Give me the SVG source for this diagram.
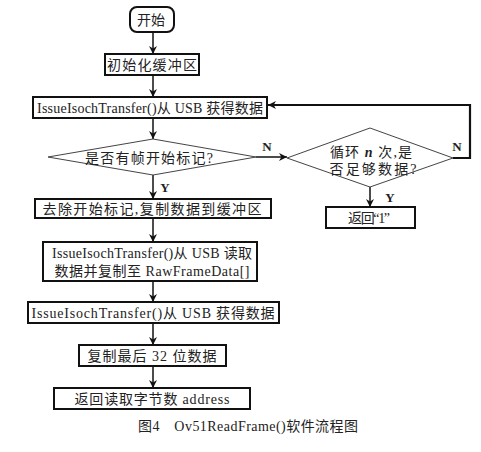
<svg xmlns="http://www.w3.org/2000/svg" width="481" height="452" viewBox="0 0 481 452">
<defs>
<marker id="ah" viewBox="0 0 10 10" refX="10" refY="5" markerWidth="8" markerHeight="8" markerUnits="userSpaceOnUse" orient="auto">
<path d="M0,0 L10,5 L0,10 L3,5 Z" fill="#111"/>
</marker>
</defs>
<style>
.box{fill:#fff;stroke:#111;stroke-width:2}
.dia{fill:#fff;stroke:#444;stroke-width:1}
.t{font-family:"Liberation Serif","Noto Sans CJK SC",serif;font-size:14px;fill:#222;text-anchor:middle;dominant-baseline:central}
.lab{font-family:"Liberation Serif",serif;font-size:13px;font-weight:bold;fill:#222;text-anchor:middle;dominant-baseline:central}
.c{fill:none;stroke:#111;stroke-width:1.5;marker-end:url(#ah)}
.c2{fill:none;stroke:#111;stroke-width:2.2;marker-end:url(#ah)}
</style>
<rect width="481" height="452" fill="#fff"/>
<g id="connectors">
<line class="c" x1="153" y1="32" x2="153" y2="54"/>
<line class="c" x1="153" y1="75" x2="153" y2="97"/>
<line class="c" x1="153" y1="118" x2="153" y2="139"/>
<line class="c" x1="153" y1="175" x2="153" y2="199"/>
<line class="c" x1="153" y1="218" x2="153" y2="242"/>
<line class="c" x1="153" y1="281" x2="153" y2="302"/>
<line class="c" x1="153" y1="323" x2="153" y2="345"/>
<line class="c" x1="153" y1="366" x2="153" y2="388"/>
<line class="c" x1="256" y1="157" x2="287" y2="157"/>
<line class="c" x1="370" y1="187" x2="370" y2="207"/>
<polyline class="c2" points="453,158 470,158 470,105 268,105"/>
<text class="lab" x="267" y="146">N</text>
<text class="lab" x="457" y="146">N</text>
<text class="lab" x="165" y="187">Y</text>
<text class="lab" x="390" y="197">Y</text>
</g>
<g id="start">
<rect class="box" x="130" y="7" width="44" height="25" rx="7" stroke-width="1.2"/>
<text class="t" x="151" y="20" textLength="28" lengthAdjust="spacing">开始</text>
</g>
<g id="init">
<rect class="box" x="105" y="54" width="94" height="21"/>
<text class="t" x="152" y="65" textLength="90" lengthAdjust="spacing">初始化缓冲区</text>
</g>
<g id="get1">
<rect class="box" x="33" y="97" width="234" height="21" stroke-width="1.5"/>
<text class="t" x="150" y="108" textLength="226" lengthAdjust="spacing">IssueIsochTransfer()从 USB 获得数据</text>
</g>
<g id="dec1">
<polygon class="dia" points="48,157 153,139 256,157 153,175"/>
<text class="t" x="149" y="158" textLength="128" lengthAdjust="spacing">是否有帧开始标记?</text>
</g>
<g id="dec2">
<polygon class="dia" points="287,158 370,128 453,158 370,187"/>
<text class="t" x="371" y="152" textLength="82" lengthAdjust="spacing">循环 <tspan font-style="italic" font-weight="bold">n</tspan> 次,是</text>
<text class="t" x="373" y="169" textLength="87" lengthAdjust="spacing">否足够数据?</text>
</g>
<g id="ret1">
<rect class="box" x="326" y="207" width="89" height="21"/>
<text class="t" x="369" y="218" textLength="42" lengthAdjust="spacing">返回“1”</text>
</g>
<g id="strip">
<rect class="box" x="35" y="199" width="236" height="19" stroke-width="1.5"/>
<text class="t" x="152" y="209" textLength="219" lengthAdjust="spacing">去除开始标记,复制数据到缓冲区</text>
</g>
<g id="read">
<rect class="box" x="43" y="242" width="214" height="39"/>
<text class="t" x="152" y="253" textLength="200" lengthAdjust="spacing">IssueIsochTransfer()从 USB 读取</text>
<text class="t" x="152" y="271" textLength="195" lengthAdjust="spacing">数据并复制至 RawFrameData[]</text>
</g>
<g id="get2">
<rect class="box" x="28" y="302" width="251" height="21"/>
<text class="t" x="153" y="313" textLength="243" lengthAdjust="spacing">IssueIsochTransfer()从 USB 获得数据</text>
</g>
<g id="copy32">
<rect class="box" x="79" y="345" width="147" height="21"/>
<text class="t" x="152" y="356" textLength="129" lengthAdjust="spacing">复制最后 32 位数据</text>
</g>
<g id="retaddr">
<rect class="box" x="54" y="388" width="196" height="21"/>
<text class="t" x="152" y="399" textLength="155" lengthAdjust="spacing">返回读取字节数 address</text>
</g>
<text class="t" x="248" y="426" font-size="13.5" textLength="220" lengthAdjust="spacing">图4　Ov51ReadFrame()软件流程图</text>
</svg>
